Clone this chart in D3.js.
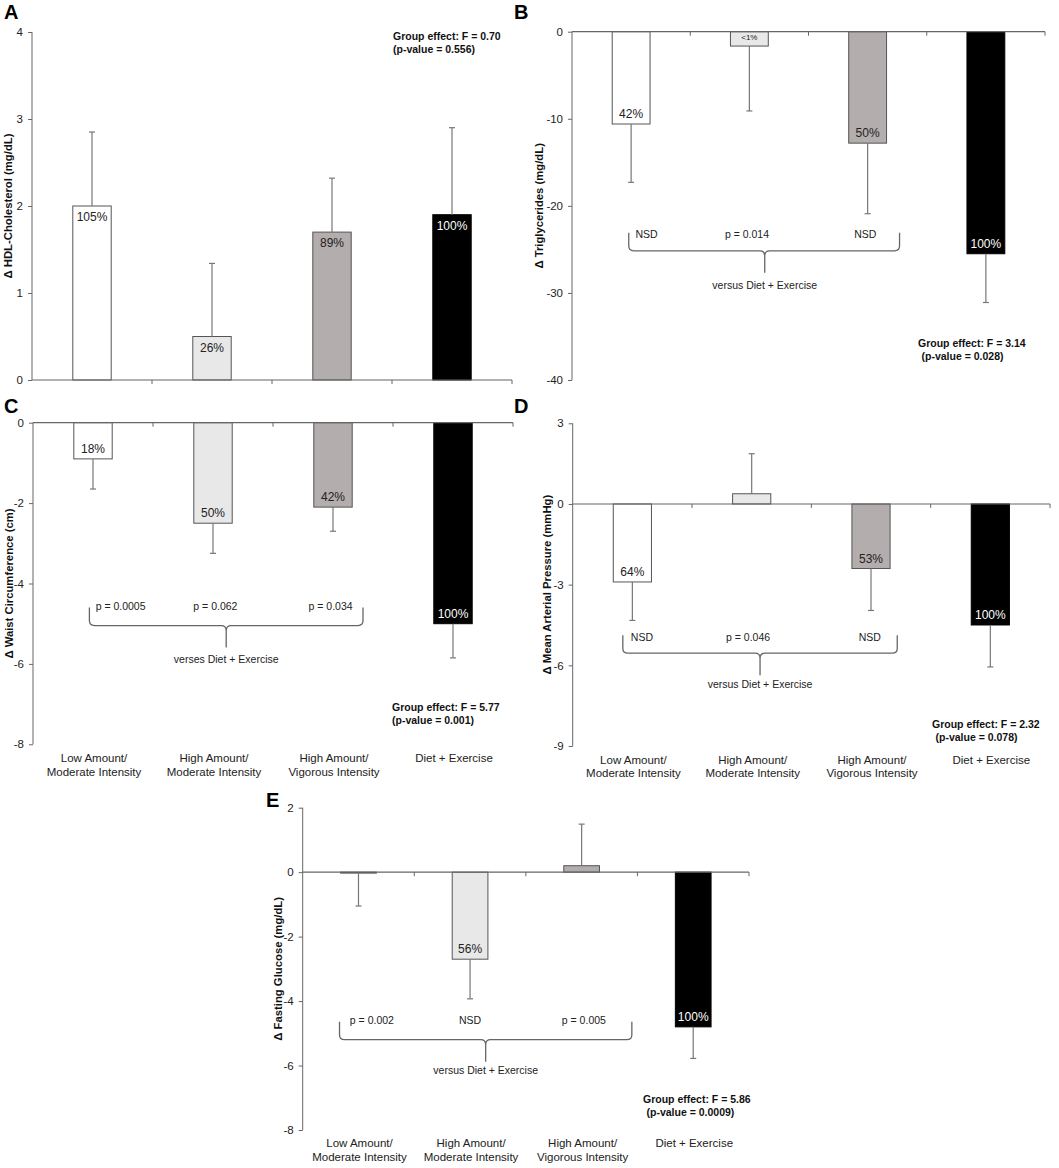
<!DOCTYPE html>
<html><head><meta charset="utf-8">
<script src="https://cdn.jsdelivr.net/npm/d3@7"></script>
<style>
body{margin:0;background:#fff;}
text{font-family:"Liberation Sans",Arial,sans-serif;fill:#222;}
</style></head>
<body><svg id="c" width="1059" height="1168"></svg>
<script>
// ---------- data ----------
const categories = [["Low Amount/","Moderate Intensity"],["High Amount/","Moderate Intensity"],["High Amount/","Vigorous Intensity"],["Diet + Exercise"]];

const hdlMean = [2.0, 0.5, 1.7, 1.9];
const hdlErr  = [2.85, 1.34, 2.32, 2.90];
const hdlPct  = ["105%","26%","89%","100%"];
const hdlTicks = [0,1,2,3,4];

const tgMean = [-10.6, -1.65, -12.8, -25.5];
const tgErr  = [-17.3, -9.1, -20.9, -31.1];
const tgPct  = ["42%","<1%","50%","100%"];
const tgTicks = [0,-10,-20,-30,-40];
const tgComp = ["NSD","p = 0.014","NSD"];

const waistMean = [-0.9, -2.5, -2.1, -5.0];
const waistErr  = [-1.65, -3.25, -2.7, -5.85];
const waistPct  = ["18%","50%","42%","100%"];
const waistTicks = [0,-2,-4,-6,-8];
const waistComp = ["p = 0.0005","p = 0.062","p = 0.034"];

const mapMean = [-2.9, 0.38, -2.4, -4.5];
const mapErr  = [-4.33, 1.87, -3.96, -6.06];
const mapPct  = ["64%","","53%","100%"];
const mapTicks = [3,0,-3,-6,-9];
const mapComp = ["NSD","p = 0.046","NSD"];

const glucMean = [-0.03, -2.7, 0.2, -4.8];
const glucErr  = [-1.05, -3.93, 1.49, -5.78];
const glucPct  = ["","56%","","100%"];
const glucTicks = [2,0,-2,-4,-6,-8];
const glucComp = ["p = 0.002","NSD","p = 0.005"];

// ---------- drawing ----------
const svg = d3.select("#c");
const fills = ["#ffffff","#e8e8e8","#b3adad","#000000"];
const pctColor = ["#222","#222","#222","#fff"];
const axisColor = "#666";

function panel(o){
  const g = svg.append("g");
  const x = d3.scaleBand().domain(d3.range(4)).range([o.x0,o.x1]).paddingInner(0).paddingOuter(0);
  const y = d3.scaleLinear().domain(o.domain).range([o.yBot,o.yTop]);
  const bw = x.bandwidth()*0.32;
  const cx = i => x(i)+x.bandwidth()/2;

  // letter
  g.append("text").attr("x",o.lx).attr("y",o.ly).attr("font-size",20).attr("font-weight","bold").style("fill","#000").text(o.letter);

  // y axis
  const ya = g.append("g").attr("transform",`translate(${o.x0},0)`)
    .call(d3.axisLeft(y).tickValues(o.ticks).tickSize(4).tickSizeOuter(0).tickFormat(d=>String(d)));
  ya.select(".domain").attr("stroke",axisColor).attr("d",`M0,${o.yTop}V${o.yBot}`);
  ya.selectAll(".tick line").attr("stroke",axisColor);
  ya.selectAll(".tick text").attr("x",-9).attr("font-size",11.5).style("font-family","Liberation Sans, Arial").style("fill","#222");

  // y title
  g.append("text").attr("transform",`translate(${o.tx},${(o.yTop+o.yBot)/2}) rotate(-90)`)
    .attr("text-anchor","middle").attr("font-size",11.3).attr("font-weight","bold").style("fill","#111").text(o.title);

  // bars
  const means = o.mean;
  g.selectAll("rect.bar").data(means).join("rect")
    .attr("x",(d,i)=>cx(i)-bw/2).attr("width",bw)
    .attr("y",d=>Math.min(y(d),y(0))).attr("height",d=>Math.max(Math.abs(y(d)-y(0)),0.8))
    .attr("fill",(d,i)=>fills[i]).attr("stroke",(d,i)=>i===3?"#000":"#555").attr("stroke-width",1);

  // error bars
  g.selectAll("line.err").data(o.err).join("line")
    .attr("x1",(d,i)=>cx(i)).attr("x2",(d,i)=>cx(i))
    .attr("y1",(d,i)=>y(means[i])).attr("y2",d=>y(d)).attr("stroke","#777").attr("stroke-width",1.2);
  g.selectAll("line.cap").data(o.err).join("line")
    .attr("x1",(d,i)=>cx(i)-3).attr("x2",(d,i)=>cx(i)+3)
    .attr("y1",d=>y(d)).attr("y2",d=>y(d)).attr("stroke","#777").attr("stroke-width",1.2);

  // x axis at zero
  const xa = g.append("g").attr("transform",`translate(0,${y(0)})`);
  xa.append("line").attr("x1",o.x0).attr("x2",o.x1).attr("y1",0).attr("y2",0).attr("stroke",axisColor).attr("stroke-width",1.2);
  [1,2,3,4].forEach(k=>{
    const xx = k<4 ? x(k) : o.x1;
    xa.append("line").attr("x1",xx).attr("x2",xx).attr("y1",0).attr("y2",4).attr("stroke",axisColor);
  });

  // pct labels
  g.selectAll("text.pct").data(o.pct).join("text")
    .attr("x",(d,i)=>cx(i)).attr("y",(d,i)=>means[i]<0 ? y(means[i])-6 : y(means[i])+15)
    .attr("text-anchor","middle").attr("font-size",d=>d==="<1%"?8:12)
    .style("fill",(d,i)=>pctColor[i]).text(d=>d);

  // bracket
  if(o.comp){
    const bx = v => o.x0 + v*x.bandwidth();
    const T = y(o.bT), H = T+18, tip = T+40, L = bx(o.bL), R = bx(o.bR), M = bx(o.bM), r=5;
    const p = `M${L},${T}L${L},${H-r}Q${L},${H} ${L+r},${H}L${M-r},${H}Q${M},${H} ${M},${H+r}L${M},${tip}`+
              `M${R},${T}L${R},${H-r}Q${R},${H} ${R-r},${H}L${M+r},${H}Q${M},${H} ${M},${H+r}`;
    g.append("path").attr("d",p).attr("fill","none").attr("stroke","#666").attr("stroke-width",1.3);
    g.selectAll("text.comp").data(o.comp).join("text")
      .attr("x",(d,i)=>bx(o.cPos[i])).attr("y",T+o.cOff).attr("text-anchor","middle").attr("font-size",10.5).text(d=>d);
    g.append("text").attr("x",M).attr("y",T+o.vOff).attr("text-anchor","middle").attr("font-size",10.5).text(o.vs);
  }

  // group effect
  g.append("text").attr("x",o.gx).attr("y",o.gy).attr("font-size",10.5).attr("font-weight","bold").style("fill","#111").text(o.g1);
  g.append("text").attr("x",o.gx+o.g2dx).attr("y",o.gy+12.5).attr("font-size",10.5).attr("font-weight","bold").style("fill","#111").text(o.g2);

  // category labels
  if(o.cats){
    categories.forEach((c,i)=>{
      const t = g.append("text").attr("text-anchor","middle").attr("font-size",11.5);
      c.forEach((line,j)=>t.append("tspan").attr("x",cx(i)+1).attr("y",o.yBot+o.catOff+j*13.5).text(line));
    });
  }
}

panel({letter:"A",lx:4,ly:19,x0:32,x1:512,yTop:32,yBot:380,domain:[0,4],ticks:hdlTicks,
  title:"\u0394 HDL-Cholesterol (mg/dL)",tx:12,mean:hdlMean,err:hdlErr,pct:hdlPct,
  gx:393,gy:40,g1:"Group effect: F = 0.70",g2:"(p-value = 0.556)",g2dx:0});

panel({letter:"B",lx:514,ly:19,x0:572,x1:1045,yTop:31.7,yBot:380,domain:[-40,0],ticks:tgTicks,
  title:"\u0394 Triglycerides (mg/dL)",tx:543,mean:tgMean,err:tgErr,pct:tgPct,
  comp:tgComp,bT:-23.1,bL:0.48,bR:2.77,bM:1.63,cPos:[0.63,1.48,2.48],cOff:5,vOff:56,vs:"versus Diet + Exercise",
  gx:918,gy:347,g1:"Group effect: F = 3.14",g2:"(p-value = 0.028)",g2dx:3.5});

panel({letter:"C",lx:4,ly:413,x0:33,x1:513,yTop:422.7,yBot:744.3,domain:[-8,0],ticks:waistTicks,
  title:"\u0394 Waist Circumference (cm)",tx:13,mean:waistMean,err:waistErr,pct:waistPct,
  comp:waistComp,bT:-4.6,bL:0.47,bR:2.75,bM:1.61,cPos:[0.73,1.52,2.48],cOff:2.5,vOff:55,vs:"verses Diet + Exercise",
  gx:392,gy:711,g1:"Group effect: F = 5.77",g2:"(p-value = 0.001)",g2dx:0,cats:true,catOff:18});

panel({letter:"D",lx:514,ly:413,x0:572.7,x1:1050,yTop:423.3,yBot:746,domain:[-9,3],ticks:mapTicks,
  title:"\u0394 Mean Arterial Pressure (mmHg)",tx:551,mean:mapMean,err:mapErr,pct:mapPct,
  comp:mapComp,bT:-4.88,bL:0.42,bR:2.72,bM:1.57,cPos:[0.58,1.47,2.49],cOff:5.5,vOff:53,vs:"versus Diet + Exercise",
  gx:932,gy:728,g1:"Group effect: F = 2.32",g2:"(p-value = 0.078)",g2dx:3.5,cats:true,catOff:17.5});

panel({letter:"E",lx:266,ly:807,x0:302.7,x1:749,yTop:807.7,yBot:1130,domain:[-8,2],ticks:glucTicks,
  title:"\u0394 Fasting Glucose (mg/dL)",tx:282,mean:glucMean,err:glucErr,pct:glucPct,
  comp:glucComp,bT:-4.64,bL:0.33,bR:2.95,bM:1.64,cPos:[0.62,1.5,2.52],cOff:2.5,vOff:52,vs:"versus Diet + Exercise",
  gx:643,gy:1103,g1:"Group effect: F = 5.86",g2:"(p-value = 0.0009)",g2dx:3.5,cats:true,catOff:17});
</script></body></html>
